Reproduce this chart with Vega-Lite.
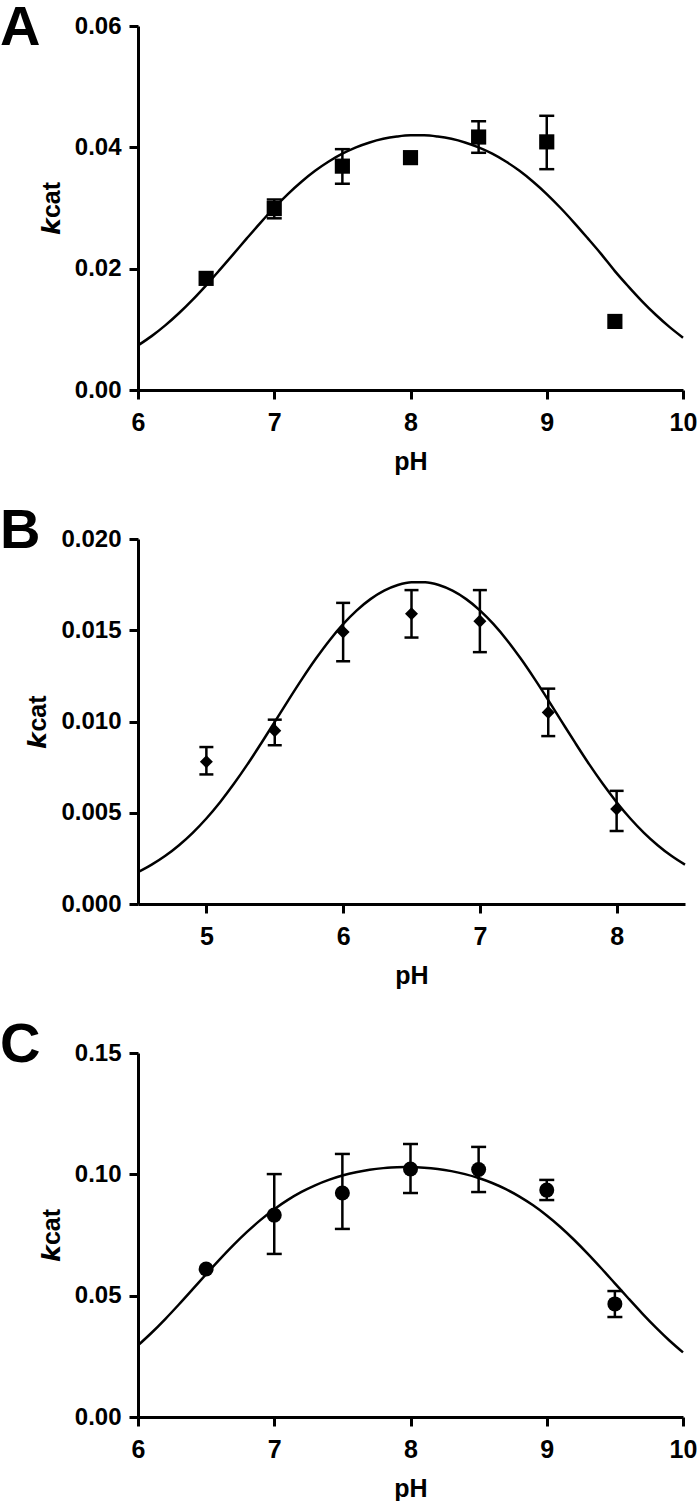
{
  "$schema": "https://vega.github.io/schema/vega-lite/v6.json",
  "background": "white",
  "padding": 0,
  "spacing": 29,
  "config": {
    "view": {"stroke": null},
    "font": "Liberation Sans",
    "axis": {
      "grid": false,
      "domainColor": "black",
      "domainWidth": 3,
      "tickColor": "black",
      "tickWidth": 3,
      "tickSize": 9,
      "labelFont": "Liberation Sans",
      "labelFontWeight": "bold",
      "labelFontSize": 24,
      "labelColor": "black",
      "titleFont": "Liberation Sans",
      "titleFontWeight": "bold",
      "titleFontSize": 25,
      "titleColor": "black"
    },
    "axisX": {"labelFlush": false, "labelPadding": 11, "titlePadding": 14, "labelFontSize": 25},
    "axisY": {"labelPadding": 8, "titlePadding": 10}
  },
  "datasets": {
    "curveA": [
      {"pH": 6.0, "kcat": 0.00735}, {"pH": 6.1, "kcat": 0.00888}, {"pH": 6.2, "kcat": 0.01065}, {"pH": 6.3, "kcat": 0.01265},
      {"pH": 6.4, "kcat": 0.01486}, {"pH": 6.5, "kcat": 0.01726}, {"pH": 6.6, "kcat": 0.0198}, {"pH": 6.7, "kcat": 0.0224},
      {"pH": 6.8, "kcat": 0.02503}, {"pH": 6.9, "kcat": 0.0276}, {"pH": 7.0, "kcat": 0.03004}, {"pH": 7.1, "kcat": 0.0323},
      {"pH": 7.2, "kcat": 0.03433}, {"pH": 7.3, "kcat": 0.03613}, {"pH": 7.4, "kcat": 0.03766}, {"pH": 7.5, "kcat": 0.03895},
      {"pH": 7.6, "kcat": 0.03999}, {"pH": 7.7, "kcat": 0.0408}, {"pH": 7.8, "kcat": 0.0414}, {"pH": 7.9, "kcat": 0.04178},
      {"pH": 8.0, "kcat": 0.04198}, {"pH": 8.1, "kcat": 0.04198}, {"pH": 8.2, "kcat": 0.04178}, {"pH": 8.3, "kcat": 0.0414},
      {"pH": 8.4, "kcat": 0.0408}, {"pH": 8.5, "kcat": 0.03999}, {"pH": 8.6, "kcat": 0.03895}, {"pH": 8.7, "kcat": 0.03766},
      {"pH": 8.8, "kcat": 0.03613}, {"pH": 8.9, "kcat": 0.03433}, {"pH": 9.0, "kcat": 0.0323}, {"pH": 9.1, "kcat": 0.03004},
      {"pH": 9.2, "kcat": 0.0276}, {"pH": 9.3, "kcat": 0.02503}, {"pH": 9.4, "kcat": 0.0224}, {"pH": 9.5, "kcat": 0.0196},
      {"pH": 9.6, "kcat": 0.01705}, {"pH": 9.7, "kcat": 0.01462}, {"pH": 9.8, "kcat": 0.0124}, {"pH": 9.9, "kcat": 0.0104},
      {"pH": 10.0, "kcat": 0.00862}
    ],
    "ptsA": [
      {"pH": 6.5, "kcat": 0.0184, "lo": null, "hi": null},
      {"pH": 7.0, "kcat": 0.0299, "lo": 0.0283, "hi": 0.0314},
      {"pH": 7.5, "kcat": 0.0369, "lo": 0.034, "hi": 0.0397},
      {"pH": 8.0, "kcat": 0.0383, "lo": null, "hi": null},
      {"pH": 8.5, "kcat": 0.0417, "lo": 0.0391, "hi": 0.0443},
      {"pH": 9.0, "kcat": 0.0409, "lo": 0.0364, "hi": 0.0452},
      {"pH": 9.5, "kcat": 0.0113, "lo": null, "hi": null}
    ],
    "curveB": [
      {"pH": 4.5, "kcat": 0.001749}, {"pH": 4.6, "kcat": 0.002155}, {"pH": 4.7, "kcat": 0.002642}, {"pH": 4.8, "kcat": 0.003222},
      {"pH": 4.9, "kcat": 0.003902}, {"pH": 5.0, "kcat": 0.004686}, {"pH": 5.1, "kcat": 0.005578}, {"pH": 5.2, "kcat": 0.006571},
      {"pH": 5.3, "kcat": 0.007648}, {"pH": 5.4, "kcat": 0.008797}, {"pH": 5.5, "kcat": 0.009981}, {"pH": 5.6, "kcat": 0.011173},
      {"pH": 5.7, "kcat": 0.012334}, {"pH": 5.8, "kcat": 0.013434}, {"pH": 5.9, "kcat": 0.014442}, {"pH": 6.0, "kcat": 0.015333},
      {"pH": 6.1, "kcat": 0.016092}, {"pH": 6.2, "kcat": 0.016705}, {"pH": 6.3, "kcat": 0.017167}, {"pH": 6.4, "kcat": 0.017477},
      {"pH": 6.5, "kcat": 0.017631}, {"pH": 6.6, "kcat": 0.017631}, {"pH": 6.7, "kcat": 0.017477}, {"pH": 6.8, "kcat": 0.017167},
      {"pH": 6.9, "kcat": 0.016705}, {"pH": 7.0, "kcat": 0.016092}, {"pH": 7.1, "kcat": 0.015333}, {"pH": 7.2, "kcat": 0.014442},
      {"pH": 7.3, "kcat": 0.013434}, {"pH": 7.4, "kcat": 0.012334}, {"pH": 7.5, "kcat": 0.011173}, {"pH": 7.6, "kcat": 0.009981},
      {"pH": 7.7, "kcat": 0.008797}, {"pH": 7.8, "kcat": 0.007648}, {"pH": 7.9, "kcat": 0.006571}, {"pH": 8.0, "kcat": 0.005578},
      {"pH": 8.1, "kcat": 0.004686}, {"pH": 8.2, "kcat": 0.003902}, {"pH": 8.3, "kcat": 0.003222}, {"pH": 8.4, "kcat": 0.002642},
      {"pH": 8.5, "kcat": 0.002155}
    ],
    "ptsB": [
      {"pH": 5.0, "kcat": 0.0078, "lo": 0.0071, "hi": 0.0086},
      {"pH": 5.5, "kcat": 0.0095, "lo": 0.0087, "hi": 0.0101},
      {"pH": 6.0, "kcat": 0.0149, "lo": 0.0133, "hi": 0.0165},
      {"pH": 6.5, "kcat": 0.0159, "lo": 0.0146, "hi": 0.0172},
      {"pH": 7.0, "kcat": 0.0155, "lo": 0.0138, "hi": 0.0172},
      {"pH": 7.5, "kcat": 0.0105, "lo": 0.0092, "hi": 0.0118},
      {"pH": 8.0, "kcat": 0.0052, "lo": 0.004, "hi": 0.0062}
    ],
    "curveC": [
      {"pH": 6.0, "kcat": 0.02951}, {"pH": 6.1, "kcat": 0.03471}, {"pH": 6.2, "kcat": 0.04037}, {"pH": 6.3, "kcat": 0.04637},
      {"pH": 6.4, "kcat": 0.05257}, {"pH": 6.5, "kcat": 0.05882}, {"pH": 6.6, "kcat": 0.06495}, {"pH": 6.7, "kcat": 0.07081},
      {"pH": 6.8, "kcat": 0.07626}, {"pH": 6.9, "kcat": 0.08122}, {"pH": 7.0, "kcat": 0.08562}, {"pH": 7.1, "kcat": 0.08946},
      {"pH": 7.2, "kcat": 0.09274}, {"pH": 7.3, "kcat": 0.09547}, {"pH": 7.4, "kcat": 0.09771}, {"pH": 7.5, "kcat": 0.0995},
      {"pH": 7.6, "kcat": 0.10088}, {"pH": 7.7, "kcat": 0.10189}, {"pH": 7.8, "kcat": 0.10256}, {"pH": 7.9, "kcat": 0.10293},
      {"pH": 8.0, "kcat": 0.10298}, {"pH": 8.1, "kcat": 0.10275}, {"pH": 8.2, "kcat": 0.1022}, {"pH": 8.3, "kcat": 0.10132},
      {"pH": 8.4, "kcat": 0.1001}, {"pH": 8.5, "kcat": 0.09848}, {"pH": 8.6, "kcat": 0.09643}, {"pH": 8.7, "kcat": 0.09389},
      {"pH": 8.8, "kcat": 0.09084}, {"pH": 8.9, "kcat": 0.08723}, {"pH": 9.0, "kcat": 0.08305}, {"pH": 9.1, "kcat": 0.07831},
      {"pH": 9.2, "kcat": 0.07304}, {"pH": 9.3, "kcat": 0.06733}, {"pH": 9.4, "kcat": 0.0613}, {"pH": 9.5, "kcat": 0.05507},
      {"pH": 9.6, "kcat": 0.04883}, {"pH": 9.7, "kcat": 0.04273}, {"pH": 9.8, "kcat": 0.03693}, {"pH": 9.9, "kcat": 0.03153},
      {"pH": 10.0, "kcat": 0.02663}
    ],
    "ptsC": [
      {"pH": 6.5, "kcat": 0.061, "lo": null, "hi": null},
      {"pH": 7.0, "kcat": 0.0832, "lo": 0.0672, "hi": 0.1001},
      {"pH": 7.5, "kcat": 0.0923, "lo": 0.0775, "hi": 0.1084},
      {"pH": 8.0, "kcat": 0.1022, "lo": 0.0923, "hi": 0.1125},
      {"pH": 8.5, "kcat": 0.102, "lo": 0.0927, "hi": 0.1113},
      {"pH": 9.0, "kcat": 0.0935, "lo": 0.0894, "hi": 0.0977},
      {"pH": 9.5, "kcat": 0.0466, "lo": 0.0412, "hi": 0.0519}
    ]
  },
  "vconcat": [
    {
      "width": 545,
      "height": 364,
      "title": {"text": "A", "anchor": "start", "frame": "group", "dx": -138, "offset": -87, "baseline": "alphabetic", "fontSize": 56, "fontWeight": "bold", "font": "Liberation Sans", "color": "black"},
      "layer": [
        {
          "data": {"name": "curveA"},
          "mark": {"type": "line", "color": "black", "strokeWidth": 2.5, "interpolate": "monotone"},
          "encoding": {
            "x": {"field": "pH", "type": "quantitative", "scale": {"domain": [6, 10], "nice": false, "zero": false}, "axis": {"title": "pH", "values": [6, 7, 8, 9, 10], "format": "d"}},
            "y": {"field": "kcat", "type": "quantitative", "scale": {"domain": [0, 0.06], "nice": false}, "axis": {"title": "𝙠cat", "values": [0, 0.02, 0.04, 0.06], "format": ".2f"}}
          }
        },
        {
          "data": {"name": "ptsA"},
          "mark": {"type": "rule", "color": "black", "strokeWidth": 2.5},
          "encoding": {"x": {"field": "pH", "type": "quantitative"}, "y": {"field": "lo", "type": "quantitative"}, "y2": {"field": "hi"}}
        },
        {
          "data": {"name": "ptsA"},
          "mark": {"type": "tick", "orient": "horizontal", "color": "black", "size": 15, "thickness": 2.5, "opacity": 1},
          "encoding": {"x": {"field": "pH", "type": "quantitative"}, "y": {"field": "lo", "type": "quantitative"}}
        },
        {
          "data": {"name": "ptsA"},
          "mark": {"type": "tick", "orient": "horizontal", "color": "black", "size": 15, "thickness": 2.5, "opacity": 1},
          "encoding": {"x": {"field": "pH", "type": "quantitative"}, "y": {"field": "hi", "type": "quantitative"}}
        },
        {
          "data": {"name": "ptsA"},
          "mark": {"type": "point", "shape": "square", "filled": true, "size": 230, "color": "black", "opacity": 1},
          "encoding": {"x": {"field": "pH", "type": "quantitative"}, "y": {"field": "kcat", "type": "quantitative"}}
        }
      ]
    },
    {
      "width": 547,
      "height": 365,
      "title": {"text": "B", "anchor": "start", "frame": "group", "dx": -138, "offset": -77, "baseline": "alphabetic", "fontSize": 56, "fontWeight": "bold", "font": "Liberation Sans", "color": "black"},
      "layer": [
        {
          "data": {"name": "curveB"},
          "mark": {"type": "line", "color": "black", "strokeWidth": 2.5, "interpolate": "monotone"},
          "encoding": {
            "x": {"field": "pH", "type": "quantitative", "scale": {"domain": [4.5, 8.5], "nice": false, "zero": false}, "axis": {"title": "pH", "values": [5, 6, 7, 8], "format": "d"}},
            "y": {"field": "kcat", "type": "quantitative", "scale": {"domain": [0, 0.02], "nice": false}, "axis": {"title": "𝙠cat", "values": [0, 0.005, 0.01, 0.015, 0.02], "format": ".3f"}}
          }
        },
        {
          "data": {"name": "ptsB"},
          "mark": {"type": "rule", "color": "black", "strokeWidth": 2.5},
          "encoding": {"x": {"field": "pH", "type": "quantitative"}, "y": {"field": "lo", "type": "quantitative"}, "y2": {"field": "hi"}}
        },
        {
          "data": {"name": "ptsB"},
          "mark": {"type": "tick", "orient": "horizontal", "color": "black", "size": 14, "thickness": 2.5, "opacity": 1},
          "encoding": {"x": {"field": "pH", "type": "quantitative"}, "y": {"field": "lo", "type": "quantitative"}}
        },
        {
          "data": {"name": "ptsB"},
          "mark": {"type": "tick", "orient": "horizontal", "color": "black", "size": 14, "thickness": 2.5, "opacity": 1},
          "encoding": {"x": {"field": "pH", "type": "quantitative"}, "y": {"field": "hi", "type": "quantitative"}}
        },
        {
          "data": {"name": "ptsB"},
          "mark": {"type": "point", "shape": "diamond", "filled": true, "size": 170, "color": "black", "opacity": 1},
          "encoding": {"x": {"field": "pH", "type": "quantitative"}, "y": {"field": "kcat", "type": "quantitative"}}
        }
      ]
    },
    {
      "width": 545,
      "height": 364,
      "title": {"text": "C", "anchor": "start", "frame": "group", "dx": -138, "offset": -77, "baseline": "alphabetic", "fontSize": 56, "fontWeight": "bold", "font": "Liberation Sans", "color": "black"},
      "layer": [
        {
          "data": {"name": "curveC"},
          "mark": {"type": "line", "color": "black", "strokeWidth": 2.5, "interpolate": "monotone"},
          "encoding": {
            "x": {"field": "pH", "type": "quantitative", "scale": {"domain": [6, 10], "nice": false, "zero": false}, "axis": {"title": "pH", "values": [6, 7, 8, 9, 10], "format": "d"}},
            "y": {"field": "kcat", "type": "quantitative", "scale": {"domain": [0, 0.15], "nice": false}, "axis": {"title": "𝙠cat", "values": [0, 0.05, 0.1, 0.15], "format": ".2f"}}
          }
        },
        {
          "data": {"name": "ptsC"},
          "mark": {"type": "rule", "color": "black", "strokeWidth": 2.5},
          "encoding": {"x": {"field": "pH", "type": "quantitative"}, "y": {"field": "lo", "type": "quantitative"}, "y2": {"field": "hi"}}
        },
        {
          "data": {"name": "ptsC"},
          "mark": {"type": "tick", "orient": "horizontal", "color": "black", "size": 15, "thickness": 2.5, "opacity": 1},
          "encoding": {"x": {"field": "pH", "type": "quantitative"}, "y": {"field": "lo", "type": "quantitative"}}
        },
        {
          "data": {"name": "ptsC"},
          "mark": {"type": "tick", "orient": "horizontal", "color": "black", "size": 15, "thickness": 2.5, "opacity": 1},
          "encoding": {"x": {"field": "pH", "type": "quantitative"}, "y": {"field": "hi", "type": "quantitative"}}
        },
        {
          "data": {"name": "ptsC"},
          "mark": {"type": "point", "shape": "circle", "filled": true, "size": 225, "color": "black", "opacity": 1},
          "encoding": {"x": {"field": "pH", "type": "quantitative"}, "y": {"field": "kcat", "type": "quantitative"}}
        }
      ]
    }
  ]
}
